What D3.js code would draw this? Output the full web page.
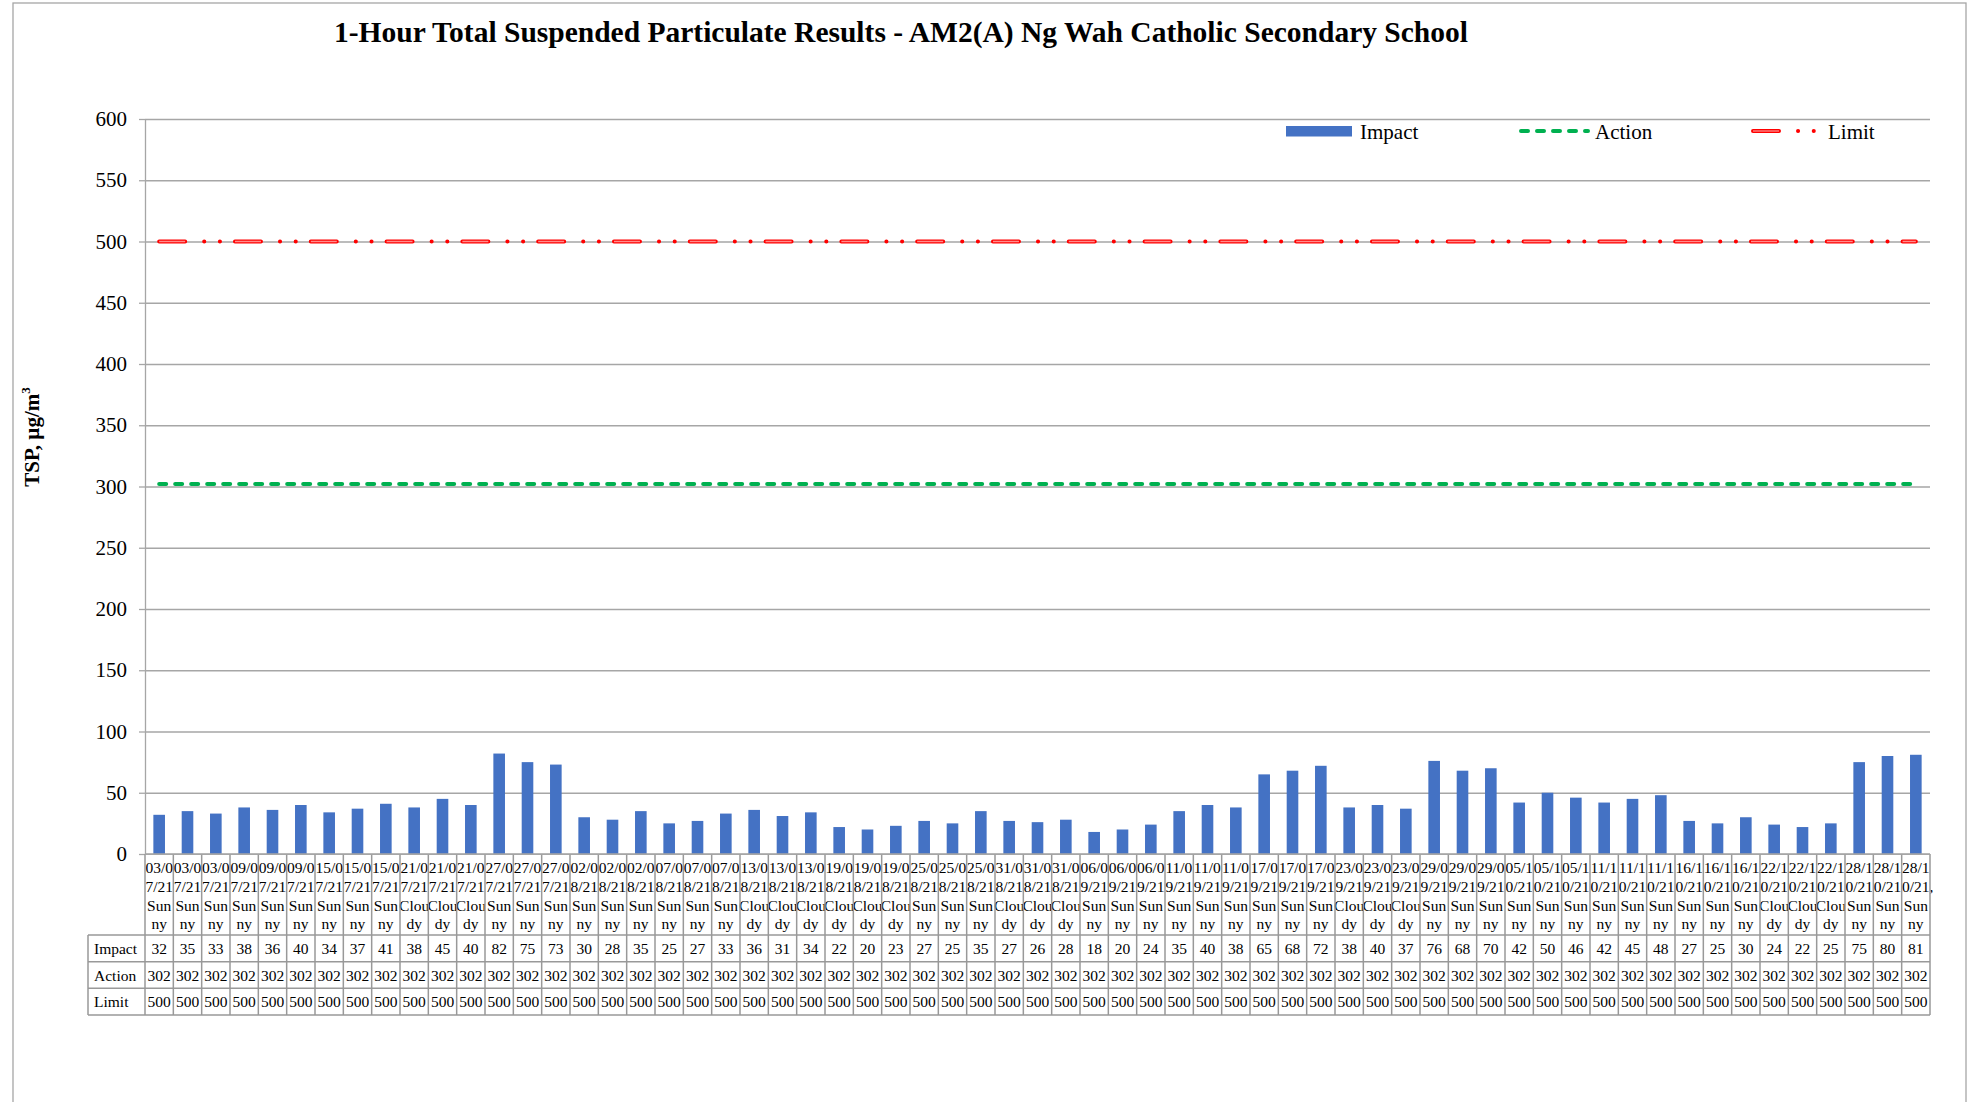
<!DOCTYPE html>
<html>
<head>
<meta charset="utf-8">
<script src="https://cdn.jsdelivr.net/npm/d3@7"></script>
<style>
  body { margin: 0; background: #fff; }
  text { font-family: "Liberation Serif", "Times New Roman", serif; fill: #000; }
</style>
</head>
<body>
<script>
// sample dates and weather (3 samples per day)
var dates = ["03/07/21","03/07/21","03/07/21","09/07/21","09/07/21","09/07/21","15/07/21","15/07/21","15/07/21",
    "21/07/21","21/07/21","21/07/21","27/07/21","27/07/21","27/07/21","02/08/21","02/08/21","02/08/21",
    "07/08/21","07/08/21","07/08/21","13/08/21","13/08/21","13/08/21","19/08/21","19/08/21","19/08/21",
    "25/08/21","25/08/21","25/08/21","31/08/21","31/08/21","31/08/21","06/09/21","06/09/21","06/09/21",
    "11/09/21","11/09/21","11/09/21","17/09/21","17/09/21","17/09/21","23/09/21","23/09/21","23/09/21",
    "29/09/21","29/09/21","29/09/21","05/10/21","05/10/21","05/10/21","11/10/21","11/10/21","11/10/21",
    "16/10/21","16/10/21","16/10/21","22/10/21","22/10/21","22/10/21","28/10/21","28/10/21","28/10/21"];

var weather = ["Sunny","Sunny","Sunny","Sunny","Sunny","Sunny","Sunny","Sunny","Sunny",
    "Cloudy","Cloudy","Cloudy","Sunny","Sunny","Sunny","Sunny","Sunny","Sunny",
    "Sunny","Sunny","Sunny","Cloudy","Cloudy","Cloudy","Cloudy","Cloudy","Cloudy",
    "Sunny","Sunny","Sunny","Cloudy","Cloudy","Cloudy","Sunny","Sunny","Sunny",
    "Sunny","Sunny","Sunny","Sunny","Sunny","Sunny","Cloudy","Cloudy","Cloudy",
    "Sunny","Sunny","Sunny","Sunny","Sunny","Sunny","Sunny","Sunny","Sunny",
    "Sunny","Sunny","Sunny","Cloudy","Cloudy","Cloudy","Sunny","Sunny","Sunny"];

var impact = [32,35,33, 38,36,40, 34,37,41, 38,45,40, 82,75,73, 30,28,35, 25,27,33,
    36,31,34, 22,20,23, 27,25,35, 27,26,28, 18,20,24, 35,40,38, 65,68,72,
    38,40,37, 76,68,70, 42,50,46, 42,45,48, 27,25,30, 24,22,25, 75,80,81];

var action = [302,302,302,302,302,302,302,302,302,302,302,302,302,302,302,302,302,302,302,302,302,
    302,302,302,302,302,302,302,302,302,302,302,302,302,302,302,302,302,302,302,302,302,
    302,302,302,302,302,302,302,302,302,302,302,302,302,302,302,302,302,302,302,302,302];

var limit = [500,500,500,500,500,500,500,500,500,500,500,500,500,500,500,500,500,500,500,500,500,
    500,500,500,500,500,500,500,500,500,500,500,500,500,500,500,500,500,500,500,500,500,
    500,500,500,500,500,500,500,500,500,500,500,500,500,500,500,500,500,500,500,500,500];

var yTicks = [0,50,100,150,200,250,300,350,400,450,500,550,600];

// Excel wraps the words in the narrow cells
var weatherParts = {"Sunny": ["Sun","ny"], "Cloudy": ["Clou","dy"]};

var svg = d3.select("body").append("svg")
    .attr("width", 1973)
    .attr("height", 1102);

svg.append("rect").attr("width", 1973).attr("height", 1102).attr("fill", "#fff");

// outer chart border
svg.append("rect")
    .attr("x", 13).attr("y", 3)
    .attr("width", 1953).attr("height", 1140)
    .attr("fill", "none")
    .attr("stroke", "#a6a6a6")
    .attr("stroke-width", 1.3);

var plotL = 145, plotR = 1930, plotT = 119, plotB = 854;
var grey = "#a6a6a6";

var idx = d3.range(impact.length);

var xCell = d3.scaleBand().domain(idx).range([plotL, plotR]).padding(0);
var xBar = d3.scaleBand().domain(idx).range([plotL, plotR])
    .paddingInner(0.59)
    .paddingOuter(0.295);
var y = d3.scaleLinear().domain([0, 600]).range([plotB, plotT]);

var step = xCell.bandwidth();
function cx(i) { return xCell(i) + step / 2; }

/* --------- title --------- */
svg.append("text")
    .attr("x", 901)
    .attr("y", 42)
    .attr("text-anchor", "middle")
    .attr("font-size", 29.5)
    .attr("font-weight", "bold")
    .text("1-Hour Total Suspended Particulate Results - AM2(A) Ng Wah Catholic Secondary School");

/* --------- gridlines --------- */
var grid = svg.append("g")
    .attr("transform", "translate(" + plotL + ",0)")
    .call(d3.axisLeft(y).tickValues(yTicks).tickSize(-(plotR - plotL)).tickFormat(""));
grid.select(".domain").remove();
grid.selectAll("line").attr("stroke", grey).attr("stroke-width", 1.3);

/* --------- y axis --------- */
var yAxis = svg.append("g")
    .attr("transform", "translate(" + plotL + ",0)")
    .call(d3.axisLeft(y).tickValues(yTicks).tickSize(6).tickSizeOuter(0).tickPadding(12));
yAxis.select(".domain").attr("stroke", grey).attr("stroke-width", 1.3);
yAxis.selectAll(".tick line").attr("stroke", grey).attr("stroke-width", 1.3);
yAxis.selectAll("text")
    .attr("font-family", "Liberation Serif")
    .attr("font-size", 21)
    .attr("fill", "#000");

var yTitle = svg.append("text")
    .attr("transform", "translate(39,437) rotate(-90)")
    .attr("text-anchor", "middle")
    .attr("font-size", 21)
    .attr("font-weight", "bold");
yTitle.append("tspan").text("TSP, µg/m");
yTitle.append("tspan").attr("font-size", 13).attr("dy", -9).text("3");

/* --------- bars --------- */
svg.append("g")
    .selectAll("rect")
    .data(impact)
    .enter().append("rect")
    .attr("x", function(d, i) { return xBar(i); })
    .attr("y", function(d) { return y(d); })
    .attr("width", xBar.bandwidth())
    .attr("height", function(d) { return y(0) - y(d); })
    .attr("fill", "#4472c4");

/* --------- action / limit lines --------- */
var line = d3.line()
    .x(function(d, i) { return cx(i); })
    .y(function(d) { return y(d); });

svg.append("path")
    .attr("d", line(action))
    .attr("fill", "none")
    .attr("stroke", "#00b050")
    .attr("stroke-width", 4)
    .attr("stroke-linecap", "round")
    .attr("stroke-dasharray", "7,9");

var limitDash = "26,19,0.1,15.6,0.1,15";
svg.append("path")
    .attr("d", line(limit))
    .attr("fill", "none")
    .attr("stroke", "#ff0000")
    .attr("stroke-width", 4)
    .attr("stroke-linecap", "round")
    .attr("stroke-dasharray", limitDash);
svg.append("path")
    .attr("d", line(limit))
    .attr("fill", "none")
    .attr("stroke", "#ff8c8c")
    .attr("stroke-width", 1.3)
    .attr("stroke-dasharray", "26,49.8");

/* --------- legend --------- */
var legend = svg.append("g").attr("font-size", 21);
legend.append("rect")
    .attr("x", 1286).attr("y", 126)
    .attr("width", 66).attr("height", 10.5)
    .attr("fill", "#4472c4");
legend.append("text").attr("x", 1360).attr("y", 138.5).text("Impact");

legend.append("line")
    .attr("x1", 1521).attr("x2", 1588)
    .attr("y1", 131).attr("y2", 131)
    .attr("stroke", "#00b050")
    .attr("stroke-width", 4)
    .attr("stroke-linecap", "round")
    .attr("stroke-dasharray", "7,9");
legend.append("text").attr("x", 1595).attr("y", 138.5).text("Action");

legend.append("line")
    .attr("x1", 1753).attr("x2", 1816)
    .attr("y1", 131).attr("y2", 131)
    .attr("stroke", "#ff0000")
    .attr("stroke-width", 4)
    .attr("stroke-linecap", "round")
    .attr("stroke-dasharray", limitDash);
legend.append("line")
    .attr("x1", 1753).attr("x2", 1779)
    .attr("y1", 131).attr("y2", 131)
    .attr("stroke", "#ff8c8c")
    .attr("stroke-width", 1.3);
legend.append("text").attr("x", 1828).attr("y", 138.5).text("Limit");

/* --------- data table --------- */
var table = svg.append("g").attr("font-size", 15.5);
var catTop = plotB, catBottom = 935, rowH = 26.67;
var labelLeft = 88;

// category labels, each cell painted white so overflowing commas are hidden
var cats = table.append("g")
    .selectAll("g")
    .data(idx)
    .enter().append("g");

cats.append("rect")
    .attr("x", function(i) { return xCell(i); })
    .attr("y", catTop + 1)
    .attr("width", step)
    .attr("height", catBottom - catTop - 2)
    .attr("fill", "#fff");

cats.append("text")
    .attr("x", function(i) { return cx(i) - 0.889 * 15.5; })
    .attr("y", 873)
    .text(function(i) { return dates[i].slice(0, 4); });
cats.append("text")
    .attr("x", function(i) { return cx(i) - 0.889 * 15.5; })
    .attr("y", 892)
    .text(function(i) { return dates[i].slice(4) + ","; });
cats.append("text")
    .attr("x", cx)
    .attr("y", 910.5)
    .attr("text-anchor", "middle")
    .text(function(i) { return weatherParts[weather[i]][0]; });
cats.append("text")
    .attr("x", cx)
    .attr("y", 929)
    .attr("text-anchor", "middle")
    .text(function(i) { return weatherParts[weather[i]][1]; });

var rows = [["Impact", impact], ["Action", action], ["Limit", limit]];

rows.forEach(function(r, k) {
    var ry = catBottom + k * rowH;
    table.append("text")
        .attr("x", 94)
        .attr("y", ry + rowH / 2 + 5.5)
        .text(r[0]);
    table.append("g")
        .selectAll("text")
        .data(r[1])
        .enter().append("text")
        .attr("x", function(d, i) { return cx(i); })
        .attr("y", ry + rowH / 2 + 5.5)
        .attr("text-anchor", "middle")
        .text(function(d) { return d; });
});

// table grid
var tLines = table.append("g")
    .attr("stroke", "#999")
    .attr("stroke-width", 1.5);

[0, 1, 2, 3].forEach(function(k) {
    tLines.append("line")
        .attr("x1", labelLeft).attr("x2", plotR)
        .attr("y1", catBottom + k * rowH).attr("y2", catBottom + k * rowH);
});
tLines.append("line")
    .attr("x1", labelLeft).attr("x2", labelLeft)
    .attr("y1", catBottom).attr("y2", catBottom + 3 * rowH);
tLines.selectAll(".vl")
    .data(d3.range(impact.length + 1))
    .enter().append("line")
    .attr("x1", function(i) { return plotL + i * step; })
    .attr("x2", function(i) { return plotL + i * step; })
    .attr("y1", catTop)
    .attr("y2", catBottom + 3 * rowH);

// zero line on top of the table cells
svg.append("line")
    .attr("x1", plotL).attr("x2", plotR)
    .attr("y1", plotB).attr("y2", plotB)
    .attr("stroke", grey)
    .attr("stroke-width", 1.5);
</script>
</body>
</html>
